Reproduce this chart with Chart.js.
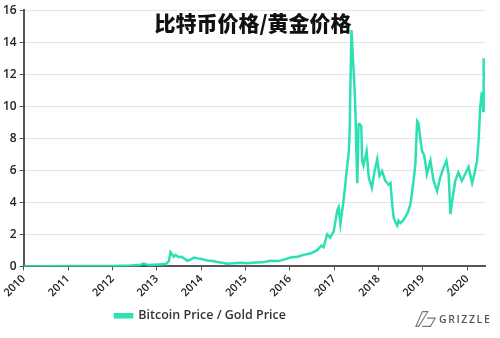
<!DOCTYPE html>
<html>
<head>
<meta charset="utf-8">
<script src="https://cdn.jsdelivr.net/npm/chart.js@4"></script>
<style>
    body { margin: 0; background: #fff; }
    #wrap { position: relative; width: 500px; height: 338px; }
    #title {
        position: absolute; left: 0; width: 506px; top: 7px;
        text-align: center; font: 900 21px "Noto Sans CJK SC"; color: #111;
    }
    #logo {
        position: absolute; left: 415px; top: 309px;
        font: 600 10.5px "Open Sans"; letter-spacing: 1.6px; color: #555;
        display: flex; align-items: center;
    }
</style>
</head>
<body>
<div id="wrap">
    <canvas id="ratioChart" width="500" height="338"></canvas>
    <div id="title">比特币价格/黄金价格</div>
    <div id="logo">
        <svg width="22" height="20" viewBox="0 0 24 20">
            <path d="M8 2 L14 2 L4 18 L1 18 Z M13 9 L22 9 L17 18 L8 18" fill="none" stroke="#777" stroke-width="1.2"/>
        </svg>
        <span style="margin-left:2px">GRIZZLE</span>
    </div>
</div>
<script>
const lineColor = 'rgb(44, 224, 180)';

// x positions in years as drawn on the axis
const years = [
    2010.00, 2010.50, 2011.01, 2011.51, 2012.03, 2012.41, 2012.64, 2012.70, 2012.82, 2013.04,
    2013.20, 2013.27, 2013.31, 2013.38, 2013.42, 2013.49, 2013.56, 2013.69, 2013.76, 2013.84,
    2013.92, 2013.99, 2014.14, 2014.26, 2014.36, 2014.48, 2014.59, 2014.73, 2014.89, 2015.04,
    2015.23, 2015.38, 2015.56, 2015.74, 2015.90, 2016.01, 2016.17, 2016.31, 2016.46, 2016.61,
    2016.71, 2016.76, 2016.84, 2016.91, 2016.99, 2017.07, 2017.10, 2017.14, 2017.21, 2017.25,
    2017.29, 2017.33, 2017.35, 2017.36, 2017.39, 2017.43, 2017.46, 2017.48, 2017.50, 2017.52,
    2017.55, 2017.57, 2017.61, 2017.63, 2017.66, 2017.73, 2017.78, 2017.85, 2017.91, 2017.97,
    2018.02, 2018.08, 2018.15, 2018.23, 2018.27, 2018.30, 2018.34, 2018.38, 2018.42, 2018.45,
    2018.49, 2018.55, 2018.60, 2018.66, 2018.72, 2018.79, 2018.83, 2018.87, 2018.90, 2018.94,
    2018.98, 2019.02, 2019.05, 2019.09, 2019.17, 2019.24, 2019.32, 2019.39, 2019.47, 2019.53,
    2019.58, 2019.62, 2019.66, 2019.73, 2019.80, 2019.88, 2019.95, 2020.03, 2020.11, 2020.16,
    2020.22, 2020.26, 2020.29, 2020.33, 2020.36, 2020.37
];

const ratio = [
    0.00, 0.01, 0.02, 0.02, 0.02, 0.05, 0.10, 0.17, 0.08, 0.12,
    0.15, 0.30, 0.89, 0.60, 0.72, 0.58, 0.60, 0.35, 0.42, 0.55,
    0.50, 0.48, 0.37, 0.33, 0.27, 0.22, 0.17, 0.20, 0.22, 0.20,
    0.24, 0.25, 0.35, 0.33, 0.45, 0.55, 0.60, 0.72, 0.80, 1.00,
    1.30, 1.20, 2.00, 1.80, 2.20, 3.50, 3.70, 2.65, 4.10, 5.10,
    6.20, 7.20, 8.50, 10.50, 14.76, 12.60, 11.10, 9.50, 7.20, 5.20,
    8.86, 8.90, 8.75, 6.60, 6.30, 7.20, 5.55, 4.90, 5.95, 6.70,
    5.65, 5.95, 5.35, 5.10, 5.20, 4.10, 3.06, 2.75, 2.55, 2.86,
    2.70, 2.86, 3.06, 3.37, 3.90, 5.35, 6.40, 9.07, 8.96, 8.00,
    7.20, 7.00, 6.60, 5.75, 6.60, 5.35, 4.70, 5.55, 6.20, 6.60,
    5.75, 3.27, 4.10, 5.35, 5.86, 5.35, 5.75, 6.20, 5.20, 5.75,
    6.60, 8.00, 9.90, 10.90, 9.70, 13.00
];

const yTicks = [0, 2, 4, 6, 8, 10, 12, 14, 16];

// moves the legend left of centre, as in the picture
const legendShift = {
    id: 'legendShift',
    afterLayout: (chart) => {
        chart.legend.left -= 42;
        chart.legend.right -= 42;
    }
};

new Chart(document.getElementById('ratioChart'), {
    type: 'line',
    data: {
        datasets: [{
            label: 'Bitcoin Price / Gold Price',
            data: years.map((yr, i) => ({ x: yr, y: ratio[i] })),
            borderColor: lineColor,
            backgroundColor: lineColor,
            borderWidth: 2.5,
            pointRadius: 0,
            tension: 0
        }]
    },
    options: {
        responsive: false,
        animation: false,
        layout: { padding: { left: 0, right: 15, top: 7, bottom: 6 } },
        plugins: {
            legend: {
                position: 'bottom',
                labels: {
                    boxWidth: 17,
                    boxHeight: 3,
                    padding: 8,
                    color: '#333',
                    font: { family: 'Open Sans', size: 12.5, weight: '600' }
                }
            },
            tooltip: { enabled: false }
        },
        scales: {
            x: {
                type: 'linear',
                min: 2010,
                max: 2020.4,
                border: { color: '#555', width: 2 },
                grid: { drawOnChartArea: false, tickLength: 4, color: '#555' },
                ticks: {
                    stepSize: 1,
                    includeBounds: false,
                    maxRotation: 45,
                    minRotation: 45,
                    padding: 2,
                    color: '#222',
                    font: { family: 'Open Sans', size: 11, weight: '600' },
                    callback: (v) => String(v)
                }
            },
            y: {
                min: 0,
                max: 16,
                afterBuildTicks: (axis) => { axis.ticks = yTicks.map(v => ({ value: v })); },
                border: { color: '#555', width: 2 },
                grid: { color: '#e4e4e4', tickColor: '#555', tickLength: 4 },
                ticks: {
                    padding: 3,
                    color: '#222',
                    font: { family: 'Open Sans', size: 12, weight: '600' }
                }
            }
        }
    },
    plugins: [legendShift]
});
</script>
</body>
</html>
